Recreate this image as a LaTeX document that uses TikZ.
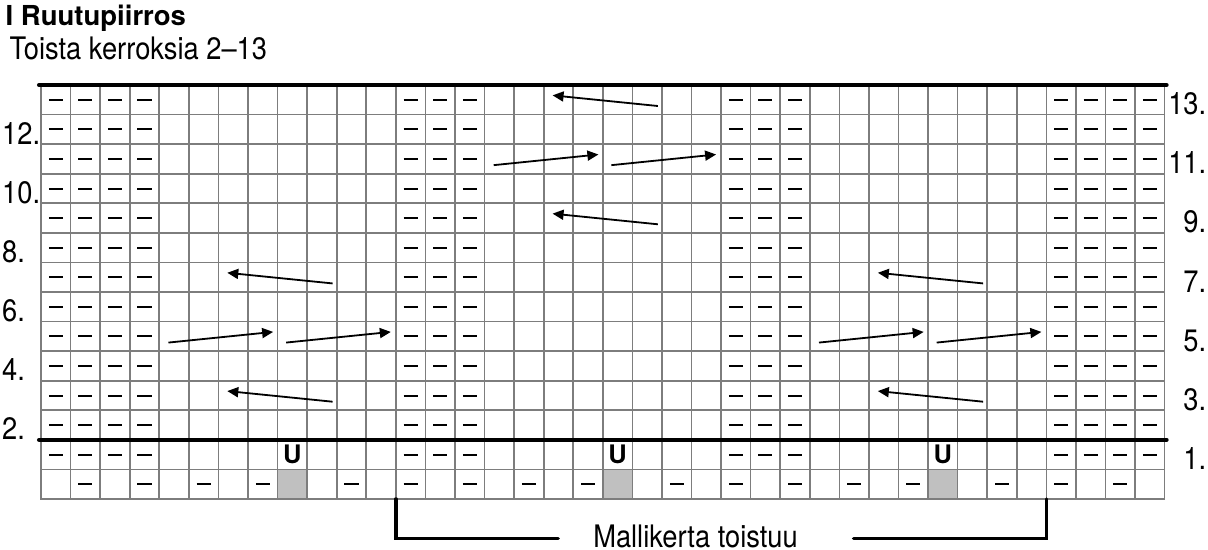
\documentclass[tikz,border=0pt]{standalone}
\usepackage{fontspec}
\setmainfont{TeX Gyre Heros}[FakeStretch=0.88]
\newfontfamily\wideheros{TeX Gyre Heros}
\usetikzlibrary{arrows.meta}
\definecolor{gridgray}{RGB}{125,125,125}
\definecolor{cellgray}{RGB}{192,192,192}
\tikzset{
  gridline/.style={draw=gridgray, line width=1.6bp, line cap=rect},
  heavyline/.style={line width=4.5bp, line cap=round},
  purlmark/.style={line width=2bp, black},
  movearrow/.style={line width=1.8bp, -{Triangle[length=11bp,width=10bp]}},
  bracketline/.style={line width=3.5bp, line cap=round, line join=miter},
  plaintext/.style={inner sep=0pt, font=\fontsize{31bp}{36bp}\selectfont},
  titletext/.style={inner sep=0pt, font=\wideheros\bfseries\fontsize{27.5bp}{32bp}\selectfont},
  ustitch/.style={inner sep=0pt, font=\wideheros\bfseries\fontsize{25.5bp}{30bp}\selectfont},
}
\begin{document}
\begin{tikzpicture}[x=1bp,y=-1bp]
\useasboundingbox (0,0) rectangle (1208,550);
\node[titletext, anchor=base west] (title) at (5.5,26) {I Ruutupiirros};
\node[plaintext, anchor=base west] (subtitle) at (9.5,59.3) {Toista kerroksia 2–13};
\begin{scope}[shift={(41,499)}, x=29.57bp, y=29.57bp]
  % gray cells
  \foreach \c in {9,20,31} \fill[cellgray] (\c-1,0) rectangle (\c,1);
  % grid
  \foreach \i in {0,...,38} \draw[gridline] (\i,0) -- (\i,14);
  \foreach \j in {0,...,14} \draw[gridline] (0,\j) -- (38,\j);
  % heavy lines
  \draw[heavyline] (-0.06,14) -- (38.06,14);
  \draw[heavyline] (-0.06,2) -- (38.06,2);
  % purl dashes
  \foreach \j in {1,...,13}
    \foreach \c in {1,2,3,4,13,14,15,24,25,26,35,36,37,38}
      \draw[purlmark] (\c-0.737,\j+0.5) -- (\c-0.263,\j+0.5);
  \foreach \c in {2,4,6,8,11,13,15,17,19,22,24,26,28,30,33,35,37}
    \draw[purlmark] (\c-0.737,0.5) -- (\c-0.263,0.5);
  % U stitches
  \node[ustitch] (u1) at (8.5,1.5) {U};
  \node[ustitch] (u2) at (19.5,1.5) {U};
  \node[ustitch] (u3) at (30.5,1.5) {U};
  % arrows pointing left
  \foreach \off/\r in {0/7,0/3,11/13,11/9,22/7,22/3} {
    \coordinate (lt-\off-\r) at (9.86+\off,\r+0.29);
    \coordinate (lh-\off-\r) at (6.30+\off,\r+0.65);
    \draw[movearrow] (lt-\off-\r) -- (lh-\off-\r);
  }
  % arrows pointing right
  \foreach \off/\r in {0/5,11/11,22/5} {
    \coordinate (ra-\off-\r) at (4.31+\off,\r+0.29);
    \coordinate (rb-\off-\r) at (7.85+\off,\r+0.65);
    \coordinate (rc-\off-\r) at (8.29+\off,\r+0.29);
    \coordinate (rd-\off-\r) at (11.83+\off,\r+0.65);
    \draw[movearrow] (ra-\off-\r) -- (rb-\off-\r);
    \draw[movearrow] (rc-\off-\r) -- (rd-\off-\r);
  }
  % row numbers
  \foreach \r in {12,10,8,6,4,2}
    \node[plaintext, anchor=base west] (left-\r) at (-1.319,\r) {\r.};
  \foreach \r in {13,11,9,7,5,3,1}
    \node[plaintext, anchor=base east] (right-\r) at (39.41,\r) {\r.};
  % repeat bracket
  \node[plaintext, anchor=base west] (repeat) at (18.67,-1.64) {Mallikerta toistuu};
  \coordinate (bl) at (12,0);
  \coordinate (blh) at (17.49,-1.343);
  \coordinate (br) at (34,0);
  \coordinate (brh) at (27.48,-1.343);
  \draw[bracketline] (bl) |- (blh);
  \draw[bracketline] (br) |- (brh);
\end{scope}
\end{tikzpicture}
\end{document}
